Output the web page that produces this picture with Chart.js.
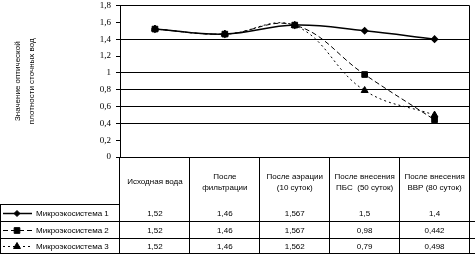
<!DOCTYPE html>
<html>
<head>
<meta charset="utf-8">
<script src="https://cdn.jsdelivr.net/npm/chart.js@4.4.1/dist/chart.umd.min.js"></script>
<style>
  body { margin: 0; background: #fff; }
  #wrap { width: 475px; height: 254px; }
</style>
</head>
<body>
<div id="wrap"><canvas id="chart"></canvas></div>
<script>
// categories (two-line labels as in the data table header)
var categories = [
  ["Исходная вода"],
  ["После", "фильтрации"],
  ["После аэрации", "(10 суток)"],
  ["После внесения", "ПБС  (50 суток)"],
  ["После внесения", "ВВР (80 суток)"]
];
var seriesNames = ["Микроэкосистема 1", "Микроэкосистема 2", "Микроэкосистема 3"];
var series1 = [1.52, 1.46, 1.567, 1.5, 1.4];
var series2 = [1.52, 1.46, 1.567, 0.98, 0.442];
var series3 = [1.52, 1.46, 1.562, 0.79, 0.498];
var yTitle = ["Значение оптической", "плотности сточных вод"];
var hiddenGrid = [1.6, 1.2, 0.2];

var tableFont = "8px 'Liberation Sans', Arial, sans-serif";

function fmt(v) {
  return String(v).replace(".", ",");
}

// draws the data table under the plot, the legend keys and the frame
const tablePlugin = {
  id: "dataTable",
  afterDraw(chart) {
    const ctx = chart.ctx;
    const xs = chart.scales.x;
    const area = chart.chartArea;
    const W = chart.width, H = chart.height;
    const rowY = [204.5, 221.5, 238.5, H - 0.5];
    ctx.save();
    ctx.strokeStyle = "#000";
    ctx.lineWidth = 1;
    ctx.beginPath();
    // right frame of plot area
    ctx.moveTo(Math.round(area.right) - 0.5, area.top);
    ctx.lineTo(Math.round(area.right) - 0.5, H);
    // left cell border
    ctx.moveTo(0.5, rowY[0]);
    ctx.lineTo(0.5, H);
    ctx.moveTo(0, rowY[0]);
    ctx.lineTo(area.left, rowY[0]);
    for (let i = 1; i < rowY.length; i++) {
      ctx.moveTo(0, rowY[i]);
      ctx.lineTo(W, rowY[i]);
    }
    ctx.stroke();

    ctx.fillStyle = "#000";
    ctx.font = tableFont;
    ctx.textAlign = "center";
    ctx.textBaseline = "middle";
    // header labels
    categories.forEach((lab, i) => {
      const x = xs.getPixelForValue(i);
      if (lab.length === 1) {
        ctx.fillText(lab[0], x, 182);
      } else {
        ctx.fillText(lab[0], x, 177);
        ctx.fillText(lab[1], x, 188);
      }
    });
    // values + legend keys
    chart.data.datasets.forEach((ds, r) => {
      const y = (rowY[r] + rowY[r + 1]) / 2 + 0.5;
      ds.data.forEach((v, i) => {
        ctx.fillText(fmt(v), xs.getPixelForValue(i), y);
      });
      ctx.save();
      ctx.lineWidth = ds.borderWidth;
      ctx.setLineDash(ds.borderDash || []);
      ctx.beginPath();
      ctx.moveTo(3, y);
      ctx.lineTo(32, y);
      ctx.stroke();
      ctx.restore();
      Chart.helpers.drawPoint(ctx, {
        pointStyle: ds.pointStyle,
        radius: ds.pointRadius,
        borderWidth: 1
      }, 17, y);
      ctx.textAlign = "left";
      ctx.fillText(ds.label, 36, y);
      ctx.textAlign = "center";
    });
    ctx.restore();
  }
};

const config = {
  type: "line",
  data: {
    labels: categories,
    datasets: [
      {
        label: seriesNames[0],
        data: series1,
        borderColor: "#000",
        backgroundColor: "#000",
        borderWidth: 1.5,
        pointStyle: "rectRot",
        pointRadius: 3,
        tension: 0.4
      },
      {
        label: seriesNames[1],
        data: series2,
        borderColor: "#000",
        backgroundColor: "#000",
        borderWidth: 1,
        borderDash: [5, 3],
        pointStyle: "rect",
        pointRadius: 4,
        tension: 0.4
      },
      {
        label: seriesNames[2],
        data: series3,
        borderColor: "#000",
        backgroundColor: "#000",
        borderWidth: 1,
        borderDash: [2, 3],
        pointStyle: "triangle",
        pointRadius: 4,
        tension: 0.4
      }
    ]
  },
  options: {
    responsive: true,
    maintainAspectRatio: false,
    animation: false,
    layout: { padding: { top: 4, right: 1, left: 0, bottom: 0 } },
    scales: {
      x: {
        offset: true,
        grid: {
          offset: true,
          drawOnChartArea: false,
          tickLength: 97,
          color: "#000",
          lineWidth: 1
        },
        border: { color: "#000", width: 1 },
        ticks: { display: false },
        afterFit: (s) => { s.height = 97; }
      },
      y: {
        min: 0,
        max: 1.8,
        ticks: {
          stepSize: 0.2,
          padding: 5,
          color: "#000",
          font: { family: "'Liberation Serif', serif", size: 9 },
          callback: (v) => fmt(Number(v.toFixed(1)))
        },
        grid: {
          tickLength: 4,
          tickColor: "#000",
          lineWidth: 1,
          color: (c) => {
            const v = c.tick ? Number(c.tick.value.toFixed(1)) : 0;
            return hiddenGrid.includes(v) ? "rgba(0,0,0,0)" : "#000";
          }
        },
        border: { color: "#000", width: 1 },
        title: {
          display: true,
          text: yTitle,
          color: "#000",
          font: { family: "'Liberation Sans', Arial, sans-serif", size: 8, lineHeight: 1.75 },
          padding: { top: 11, bottom: 0 }
        },
        afterFit: (s) => { s.width = 120; s.paddingTop = 0; s.paddingBottom = 0; }
      }
    },
    plugins: {
      legend: { display: false },
      tooltip: { enabled: false }
    }
  },
  plugins: [tablePlugin]
};

new Chart(document.getElementById("chart"), config);
</script>
</body>
</html>
